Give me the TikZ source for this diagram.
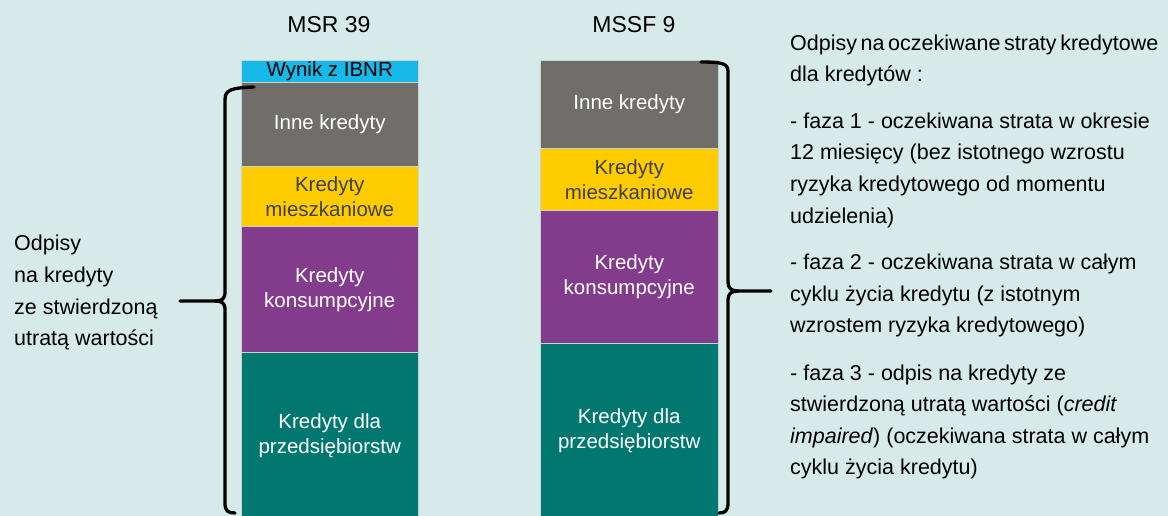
\documentclass[tikz,border=0pt]{standalone}
\usepackage{fontspec}
\setmainfont{Liberation Sans}
\definecolor{bgcol}{HTML}{D6EBE9}
\definecolor{ibnr}{HTML}{17B9E8}
\definecolor{inne}{HTML}{6F6E6B}
\definecolor{mieszk}{HTML}{FFCC00}
\definecolor{konsum}{HTML}{833C8C}
\definecolor{przeds}{HTML}{00786F}
\definecolor{edgecol}{HTML}{C9D3D2}
\definecolor{darktxt}{HTML}{3F3F3F}
\begin{document}
\begin{tikzpicture}[x=1pt,y=-1pt,
  blk/.style={rectangle, inner sep=0pt, anchor=north west, draw=edgecol,
    line width=0.5pt, align=center, text=white,
    font=\fontsize{20.5}{25}\selectfont},
  head/.style={anchor=base, inner sep=0pt, font=\fontsize{23}{27}\selectfont},
  side/.style={anchor=base west, inner sep=0pt, font=\fontsize{21.5}{31}\selectfont},
  brace/.style={line width=3.3pt, line cap=round, line join=round}]
% background
\fill[bgcol] (0,0) rectangle (1168,516);
\useasboundingbox (0,0) rectangle (1168,516);

% column headings
\node[head] (hmsr) at (329,33) {MSR 39};
\node[head] (hmssf) at (634,33) {MSSF 9};

% MSR 39 stack
\node[blk, fill=ibnr, text=black, minimum width=177pt, minimum height=22pt] (l0) at (241,60) {Wynik z IBNR};
\node[blk, fill=inne, minimum width=177pt, minimum height=84pt] (l1) at (241,82) {\raisebox{-3pt}{Inne kredyty}};
\node[blk, fill=mieszk, text=darktxt, minimum width=177pt, minimum height=60pt] (l2) at (241,166) {Kredyty\\mieszkaniowe};
\node[blk, fill=konsum, minimum width=177pt, minimum height=126pt] (l3) at (241,226) {\raisebox{-2pt}{Kredyty}\\\raisebox{-2pt}{konsumpcyjne}};
\node[blk, fill=przeds, minimum width=177pt, minimum height=166pt] (l4) at (241,352) {\raisebox{-3pt}{Kredyty dla}\\\raisebox{-3pt}{przedsiębiorstw}};

% MSSF 9 stack
\node[blk, fill=inne, minimum width=178pt, minimum height=88pt] (r1) at (540,60) {\raisebox{-2pt}{Inne kredyty}};
\node[blk, fill=mieszk, text=darktxt, minimum width=178pt, minimum height=62pt] (r2) at (540,148) {Kredyty\\mieszkaniowe};
\node[blk, fill=konsum, minimum width=178pt, minimum height=133pt] (r3) at (540,210) {\raisebox{-4pt}{Kredyty}\\\raisebox{-4pt}{konsumpcyjne}};
\node[blk, fill=przeds, minimum width=178pt, minimum height=175pt] (r4) at (540,343) {\raisebox{-4pt}{Kredyty dla}\\\raisebox{-4pt}{przedsiębiorstw}};

% left brace
\draw[brace] (254,87) .. controls (230,88) and (225,90) .. (225,100) -- (225,292)
  .. controls (225,299) and (222,301) .. (215,301) -- (180,301);
\draw[brace] (215,301) .. controls (222,301) and (225,303) .. (225,310) -- (225,503)
  .. controls (225,511) and (228,513) .. (235,513);

% right brace
\draw[brace] (701,62) .. controls (724,62) and (728,64) .. (728,72) -- (728,282)
  .. controls (728,288) and (731,291) .. (738,291) -- (771,291);
\draw[brace] (738,291) .. controls (731,291) and (728,294) .. (728,300) -- (728,503)
  .. controls (728,511) and (725,513) .. (719,513);

% left description
\node[side] (a1) at (14,251) {Odpisy};
\node[side] (a2) at (14,282.5) {na kredyty};
\node[side] (a3) at (14,314) {ze stwierdzoną};
\node[side] (a4) at (14,345.5) {utratą wartości};

% right description
\node[side] (b1) at (790,50.5) {\spaceskip=3.6pt Odpisy na oczekiwane straty kredytowe};
\node[side] (b2) at (790,82) {dla kredytów :};
\node[side] (c1) at (790,128.5) {- faza 1 - oczekiwana strata w okresie};
\node[side] (c2) at (790,160) {12 miesięcy (bez istotnego wzrostu};
\node[side] (c3) at (790,191.5) {ryzyka kredytowego od momentu};
\node[side] (c4) at (790,223) {udzielenia)};
\node[side] (d1) at (790,269.5) {- faza 2 - oczekiwana strata w całym};
\node[side] (d2) at (790,301) {cyklu życia kredytu (z istotnym};
\node[side] (d3) at (790,332.5) {wzrostem ryzyka kredytowego)};
\node[side] (e1) at (790,380) {- faza 3 - odpis na kredyty ze};
\node[side] (e2) at (790,411.5) {stwierdzoną utratą wartości (\textit{credit}};
\node[side] (e3) at (790,443) {\textit{impaired}) (oczekiwana strata w całym};
\node[side] (e4) at (790,474.5) {cyklu życia kredytu)};
\end{tikzpicture}
\end{document}
